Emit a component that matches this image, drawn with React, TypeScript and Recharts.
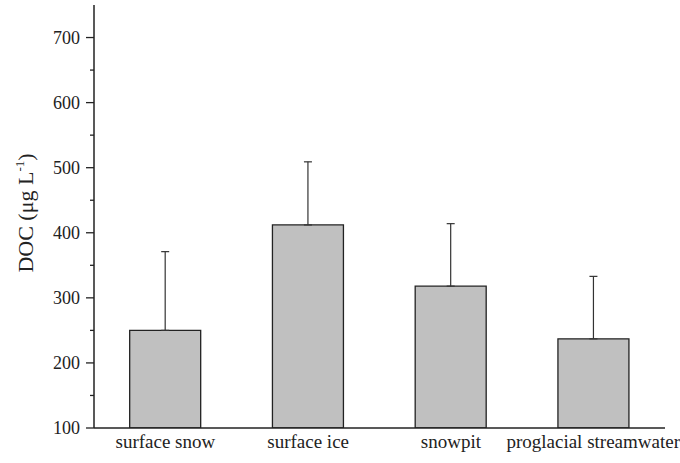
import React from 'react';
import { BarChart, Bar, XAxis, YAxis, ErrorBar } from 'recharts';

const categories = ['surface snow', 'surface ice', 'snowpit', 'proglacial streamwater'];
const means = [250, 412, 318, 237];
const errUp = [121, 97, 96, 96];
const yTicks = [100, 150, 200, 250, 300, 350, 400, 450, 500, 550, 600, 650, 700];

const data = categories.map((c, i) => ({ name: c, doc: means[i], err: [0, errUp[i]] }));

const FONT = '"Liberation Serif", "Times New Roman", serif';
const INK = '#222';

const YTick = (props: any) => {
  const { x, y, payload } = props;
  const major = payload.value % 100 === 0;
  const len = major ? 8 : 4;
  return (
    <g>
      <line x1={x} y1={y} x2={x - len} y2={y} stroke={INK} strokeWidth={1.3} />
      {major && (
        <text x={x - 14} y={y} dy={6} textAnchor="end" fontFamily={FONT} fontSize={18} fill={INK}>
          {payload.value}
        </text>
      )}
    </g>
  );
};

const YLabel = () => (
  <text
    x={0}
    y={0}
    transform="translate(33,213) rotate(-90)"
    textAnchor="middle"
    fontFamily={FONT}
    fontSize={22}
    fill={INK}
  >
    DOC (μg L
    <tspan dy={-9} fontSize={13}>-1</tspan>
    <tspan dy={9}>)</tspan>
  </text>
);

export default function App() {
  return (
    <div style={{ position: 'absolute', left: 0, top: 0 }}>
      <BarChart
        width={680}
        height={463}
        data={data}
        margin={{ top: 5, right: 15, bottom: 0, left: 0 }}
        barCategoryGap="25%"
      >
        <XAxis
          dataKey="name"
          axisLine={{ stroke: INK, strokeWidth: 1.5 }}
          tickLine={false}
          height={35}
          tick={{ fontFamily: FONT, fontSize: 19, fill: INK }}
          tickMargin={1}
        />
        <XAxis xAxisId="top" orientation="top" height={0} tick={false} tickLine={false} axisLine={{ stroke: INK, strokeWidth: 1.5 }} />
        <YAxis
          domain={[100, 750]}
          ticks={yTicks}
          interval={0}
          allowDataOverflow
          width={94}
          tickLine={false}
          tickSize={0}
          tickMargin={0}
          axisLine={{ stroke: INK, strokeWidth: 1.5 }}
          tick={<YTick />}
          label={<YLabel />}
        />
        <YAxis yAxisId="right" orientation="right" width={0} tick={false} tickLine={false} axisLine={{ stroke: INK, strokeWidth: 1.5 }} />
        <Bar dataKey="doc" fill="#c0c0c0" stroke={INK} strokeWidth={1.3} isAnimationActive={false}>
          <ErrorBar dataKey="err" width={4} stroke="#333" strokeWidth={1.2} direction="y" />
        </Bar>
      </BarChart>
    </div>
  );
}
